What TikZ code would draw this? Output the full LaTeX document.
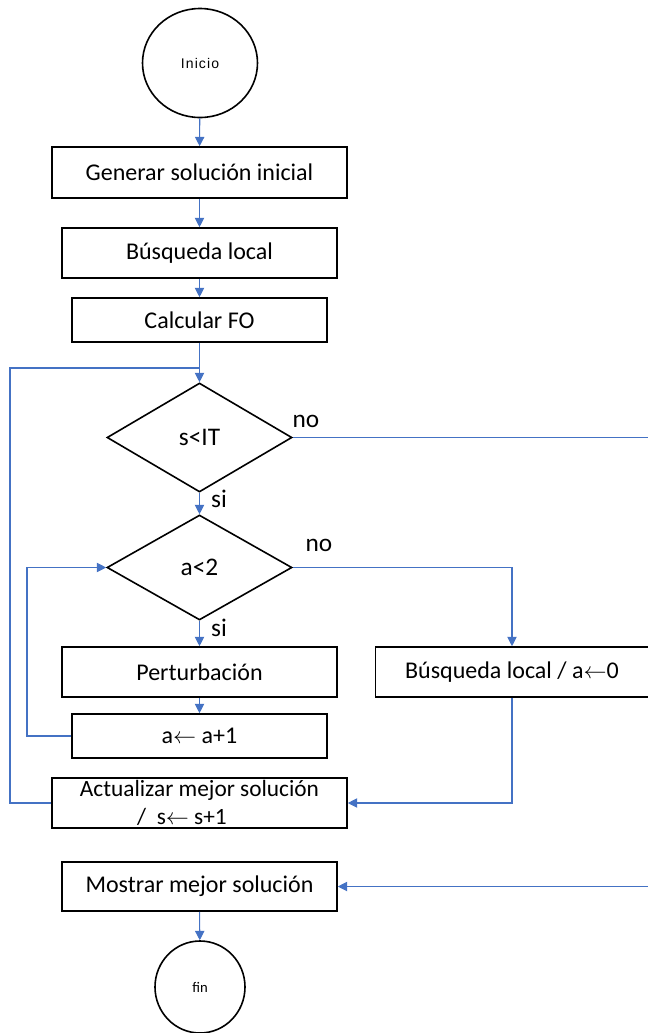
\documentclass[tikz,border=0pt]{standalone}
\usepackage{fontspec}
\setmainfont{Carlito}
\newfontfamily\termfont[LetterSpace=8]{Liberation Sans}
\usetikzlibrary{shapes.geometric,arrows.meta}
\definecolor{flow}{RGB}{68,114,196}
\begin{document}
\begin{tikzpicture}[x=0.75pt,y=-0.75pt,
  box/.style={draw,line width=1.2pt,rectangle,inner sep=0pt,font=\fontsize{18}{19}\selectfont,align=center},
  term/.style={draw,line width=1.2pt,ellipse,inner sep=0pt},
  dec/.style={draw,line width=1.2pt,diamond,inner sep=0pt,font=\fontsize{19}{21}\selectfont},
  lab/.style={font=\fontsize{19}{21}\selectfont,inner sep=0pt},
  conn/.style={draw=flow,line width=0.8pt},
  arr/.style={conn,-{Triangle[length=7pt,width=7pt]},shorten >=0pt}
]
\useasboundingbox (0,0) rectangle (648,1033);
\clip (0,0) rectangle (648,1033);
\node[term,minimum width=86.25pt,minimum height=81.75pt,font=\termfont\fontsize{10.5}{12}\selectfont] (inicio) at (200,63) {Inicio};
\node[box,minimum width=221.25pt,minimum height=38.25pt] (gen) at (199.5,172.5) {Generar solución inicial};
\node[box,minimum width=206.25pt,minimum height=37.5pt] (bl) at (199.5,253) {Búsqueda local};
\node[box,minimum width=191.25pt,minimum height=33pt] (fo) at (199.5,320) {Calcular FO};
\node[dec,minimum width=138.75pt,minimum height=81.75pt] (d1) at (199.5,437.5) {s<IT};
\node[dec,minimum width=138.75pt,minimum height=78.75pt] (d2) at (199.5,567.5) {a<2};
\node[box,minimum width=206.25pt,minimum height=37.5pt] (pert) at (199.5,672) {Perturbación};
\node[box,minimum width=204.75pt,minimum height=37.5pt] (bla) at (512,672) {Búsqueda local / a$\leftarrow$0};
\node[box,minimum width=191.25pt,minimum height=33pt] (inc) at (199.5,736) {a$\leftarrow$ a+1};
\node[box,minimum width=221.25pt,minimum height=37.5pt,font=\fontsize{17.5}{19}\selectfont] (act) at (199.5,803) {Actualizar mejor solución\\[2pt] /\ \ s$\leftarrow$ s+1\hspace*{1.5em}};
\node[box,minimum width=206.25pt,minimum height=36.75pt] (most) at (199.5,886.5) {Mostrar mejor solución};
\node[term,minimum width=67.5pt,minimum height=69pt,font=\fontsize{11}{13}\selectfont] (fin) at (200,987) {fin};
\coordinate (j) at (199.5,368);
\coordinate (out) at (660,437.5);
\draw[arr] (inicio) -- (gen);
\draw[arr] (gen) -- (bl);
\draw[arr] (bl) -- (fo);
\draw[arr] (fo) -- (d1);
\draw[conn] (act.west) -- (10,803) -- (10,368) -- (j);
\draw[arr] (d1) -- (d2);
\draw[arr] (d1.east) -- (out) |- (most.east);
\draw[arr] (d2) -- (pert);
\draw[arr] (d2.east) -| (bla.north);
\draw[arr] (pert) -- (inc);
\draw[arr] (inc.west) -- (27,736) |- (d2.west);
\draw[arr] (bla.south) |- (act.east);
\draw[arr] (most) -- (fin);
\node[lab] (no1) at (306,421) {no};
\node[lab] (si1) at (219,499) {si};
\node[lab] (no2) at (319,545) {no};
\node[lab] (si2) at (219,628) {si};
\end{tikzpicture}
\end{document}
